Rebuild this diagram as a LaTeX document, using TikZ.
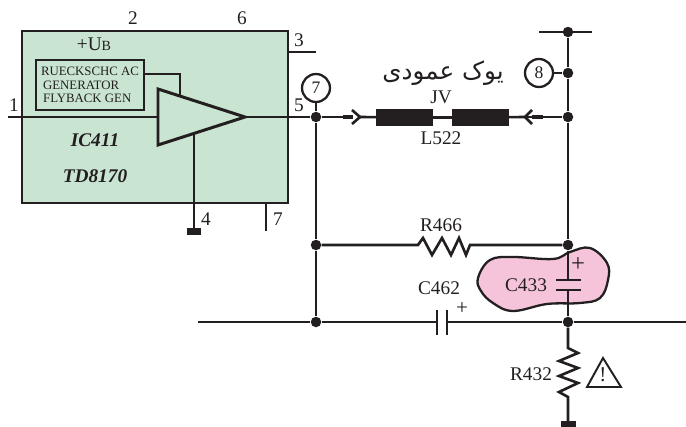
\documentclass[tikz,border=0pt]{standalone}
\usepackage{fontspec}
\setmainfont{Liberation Serif}
\newfontfamily\arabicfont[Script=Arabic]{DejaVu Sans}
\TeXXeTstate=1
\usetikzlibrary{arrows.meta}
\usetikzlibrary{calc,positioning}
\definecolor{icgreen}{HTML}{C9E4D0}
\definecolor{blobpink}{HTML}{F6C4DA}
\definecolor{ink}{HTML}{231F20}
\tikzset{
    wire/.style = {line width=1.5pt, color=ink},
    junction/.style = {circle, fill=ink, inner sep=0pt, minimum size=0.21cm},
    probe/.style = {circle, draw=ink, line width=1.3pt, fill=white, inner sep=0pt, minimum size=0.56cm, text=ink},
    coil/.style = {fill=ink, draw=ink, inner sep=0pt, minimum width=1.12cm, minimum height=0.33cm},
    lbl/.style = {text=ink, inner sep=0pt, font=\fontsize{11}{13}\selectfont},
    plug/.style = {line width=2.6pt, color=ink},
}
\begin{document}
\begin{tikzpicture}[x=0.02cm,y=-0.02cm]
    \useasboundingbox (0,0) rectangle (686,426);

    % IC
    \node[draw=ink, line width=1.6pt, fill=icgreen, minimum width=5.32cm, minimum height=3.44cm, inner sep=0pt] (ic) at (155,117) {};
    \node[draw=ink, line width=1.6pt, inner sep=0pt, minimum width=2.16cm, minimum height=1cm, align=left, text=ink, font=\fontsize{7.3}{8.2}\selectfont] (gen) at (90,85) {RUECKSCHC AC\\[-0.5pt]\,GENERATOR\\[-0.5pt]\,FLYBACK GEN};
    \coordinate (in) at (8,117);
    \coordinate (genout) at (gen.east |- 0,74);
    \draw[wire] (genout) -- (180,74) -- (180,97);
    \draw[wire] (in) -- (158,117);
    \draw[wire, line width=1.7pt, fill=icgreen, line join=miter] (158,89) coordinate (ampA) -- (245,117) coordinate (ampO) -- (158,145) coordinate (ampB) -- cycle;
    \draw[wire] (194,134) coordinate (ampG) -- (194,231) coordinate (gnd);
    \draw[line width=4pt, color=ink] (187,231.5) -- (201,231.5);
    \draw[wire] (288,52) coordinate (pinC) -- (316,52);
    \draw[wire] (266,203) coordinate (pinS) -- (266,231);

    \node[lbl] (p2) at (133,18) {2};
    \node[lbl] (p6) at (242,18) {6};
    \node[lbl] (p3) at (299,40) {3};
    \node[lbl] (p1) at (14,105) {1};
    \node[lbl] (p5) at (299,105) {5};
    \node[lbl] (p4) at (206,219) {4};
    \node[lbl] (p7) at (278,219) {7};
    \node[lbl] (ub) at (94,44) {+U{\fontsize{8}{9}\selectfont B}};
    \node[lbl, font=\fontsize{11}{13}\selectfont\bfseries\itshape] (icname) at (95,140) {IC411};
    \node[lbl, font=\fontsize{11}{13}\selectfont\bfseries\itshape] (ictype) at (95,176) {TD8170};

    % junctions
    \node[junction] (a) at (316,117) {};
    \node[junction] (b) at (316,245) {};
    \node[junction] (c) at (316,322) {};
    \node[junction] (top) at (568,32) {};
    \node[junction] (d) at (568,73) {};
    \node[junction] (e) at (568,117) {};
    \node[junction] (f) at (568,245) {};
    \node[junction] (g) at (568,322) {};
    \node[probe] (m7) at (316,88) {7};
    \node[probe] (m8) at (539,73) {8};

    \draw[wire] (ampO) -- (a);
    \draw[wire] (m7) -- (a) -- (b) -- (c);
    \draw[wire] (m8) -- (d);

    % yoke
    \node[coil] (la) at (404.5,117.5) {};
    \node[coil] (lb) at (480,117.5) {};
    \draw[wire] (a) -- (353,117) coordinate (pa);
    \draw[plug] (343,117) -- (pa);
    \draw[wire] (352,110) -- (360,117) coordinate (ta) -- (352,124);
    \draw[wire] (ta) -- (la);
    \draw[wire] (la) -- (lb);
    \draw[wire] (lb) -- (525,117) coordinate (tb);
    \draw[wire] (532,110) -- (tb) -- (532,124);
    \draw[wire] (tb) -- (e);
    \draw[plug] (532,117) -- (543,117);
    \node[lbl] (jv) at (441,97) {JV};
    \node[lbl] (l522) at (441,138) {L522};
    \node[text=ink, inner sep=0pt, font=\fontsize{14}{16}\selectfont] (yoke) at (443,73) {\arabicfont\beginR یوک عمودی\endR};

    % rail
    \draw[wire] (539,32) coordinate (topL) -- (592,32) coordinate (topR);

    % C433
    \draw[line width=1.3pt, color=ink, fill=blobpink] plot[smooth cycle, tension=0.65] coordinates {(478,278) (490,260) (513,257) (553,259) (570,252) (590,248) (607,263) (608,280) (600,298) (580,303) (547,304) (513,311) (493,303) (481,291)};
    \coordinate (ctop) at (568,280);
    \coordinate (cbot) at (568,290);
    \draw[wire] (top) -- (d) -- (e) -- (f) -- (ctop);
    \draw[wire] (cbot) -- (g);
    \draw[wire] (556,280) -- (581,280);
    \draw[wire] (556,290) -- (581,290);
    \node[lbl] (c433) at (526,285) {C433};
    \node[lbl, font=\fontsize{14}{16}\selectfont] (cplus) at (578,265) {+};

    % R466
    \draw[wire] (b) -- (418,245) -- (423,238) -- (432,255) -- (442,238) -- (451,255) -- (459,238) -- (466,255) -- (470,245) -- (f);
    \node[lbl] (r466) at (441,225) {R466};

    % C462
    \coordinate (c1) at (437,322);
    \coordinate (c2) at (447,322);
    \coordinate (railL) at (198,322);
    \coordinate (railR) at (686,322);
    \draw[wire] (railL) -- (c) -- (c1);
    \draw[wire] (c2) -- (g) -- (railR);
    \draw[wire] (437,310) -- (437,335);
    \draw[wire] (447,310) -- (447,335);
    \node[lbl] (c462) at (439,288) {C462};
    \node[lbl, font=\fontsize{12}{14}\selectfont] (dplus) at (462,309) {+};

    % R432
    \draw[wire] (g) -- (568,348) -- (578,353) -- (559,361) -- (578,368) -- (559,376) -- (578,383) -- (559,392) -- (568,397) -- (568,423) coordinate (gndb);
    \draw[line width=4pt, color=ink] (561,425) -- (576,425);
    \node[lbl] (r432) at (531,374) {R432};
    \draw[line width=1.1pt, color=ink, line join=miter] (603,358) coordinate (warnT) -- (621,387) -- (587,387) -- cycle;
    \node[lbl, font=\fontsize{12}{14}\selectfont] (warn) at (603,375) {!};
\end{tikzpicture}
\end{document}
